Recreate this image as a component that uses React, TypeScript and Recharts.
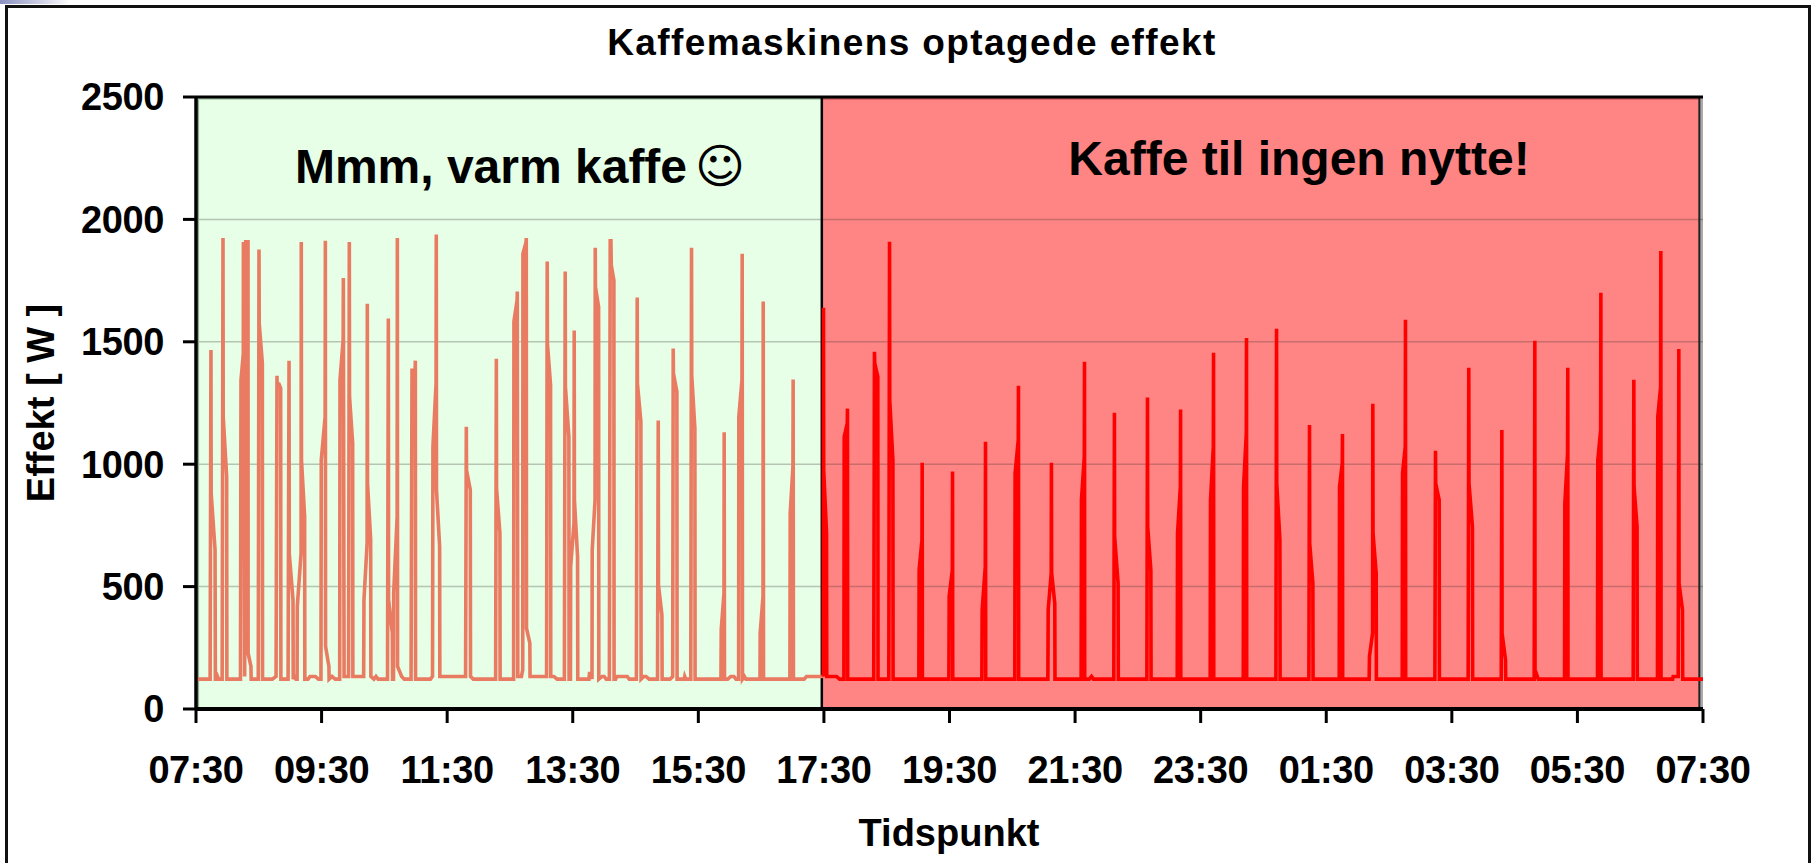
import { LineChart, Line, XAxis, YAxis, ReferenceArea, ReferenceLine } from 'recharts';

// minutes after 07:30, watts
const dayReadings: [number, number][] = [
  [0, 122], [13.5, 122], [14.3, 1466], [14.5, 881], [18.2, 650], [18.5, 122], [19.5, 122], [20.5, 133], [21.5, 122], [25, 122],
  [25.8, 1924], [26, 1194], [29.3, 949], [29.5, 122], [42.5, 122],
  [43, 1344], [45.2, 1452], [45.3, 1908], [46.5, 133], [47.5, 1908], [49.7, 1908], [49.8, 228], [52.5, 174], [52.7, 122], [59.5, 122],
  [60.2, 1877], [60.4, 1575], [63.4, 1412], [63.6, 122], [73, 122], [76.5, 133],
  [77.4, 1361], [77.5, 1327], [79.3, 1327], [80.9, 1310], [81.1, 122], [88, 122],
  [88.9, 1423], [89.1, 636], [92.7, 446], [92.9, 122], [94, 133], [95.5, 122], [96.6, 122],
  [96.8, 419], [100.4, 636], [100.6, 1908], [100.8, 1017], [103.8, 786], [104, 122], [107, 122], [109, 133], [114, 133], [117, 122], [119.4, 122],
  [119.7, 1017], [123.4, 1194], [123.6, 1913], [123.8, 256], [127, 174], [127.2, 122], [130, 133], [133, 122], [137.3, 122],
  [137.6, 1344], [140.6, 1507], [140.8, 1761], [141.5, 133], [145.8, 133],
  [146.5, 1908], [146.7, 1276], [149.7, 1085], [149.9, 133], [160.2, 133],
  [160.5, 446], [163.5, 677], [163.7, 1655], [163.9, 922], [166.9, 691], [167.1, 133], [170, 122], [172, 133], [174, 122], [183, 122],
  [183.8, 1595], [184, 446], [187.6, 310], [187.8, 122], [188.7, 122],
  [188.9, 473], [192.2, 786], [192.4, 1924], [192.6, 174], [196.5, 133], [199, 122], [205.5, 122],
  [206.4, 1384], [209.4, 1384], [209.6, 1423], [209.8, 122], [224, 122], [226, 133],
  [226.4, 1072], [229.4, 1330], [229.6, 1938], [229.8, 895], [232.8, 664], [233, 133], [257.6, 133],
  [258.3, 1153], [258.5, 976], [262.1, 895], [262.3, 133], [265, 122], [286.3, 122],
  [287, 1431], [287.2, 900], [290.4, 718], [290.6, 122], [303.5, 122],
  [303.8, 1582], [306.8, 1670], [307, 1705], [307.5, 133], [311, 133], [312.2, 160],
  [312.4, 1860], [315.4, 1908], [315.6, 1924], [315.8, 330], [319, 269], [319.2, 133], [335, 133],
  [335.6, 1828], [335.8, 1493], [338.8, 1323], [339, 133], [342, 133], [345, 122], [352, 122],
  [352.8, 1787], [353, 1316], [356.3, 1112], [356.5, 122], [357.8, 122],
  [358, 582], [361.2, 760], [361.4, 1546], [361.6, 854], [364.6, 623], [364.8, 122], [375.5, 122], [376, 145], [378, 145], [378.4, 122],
  [378.6, 650], [381.3, 854], [381.5, 1884], [381.7, 1724], [384.7, 1643], [384.9, 122], [388, 133], [390, 133], [392, 122], [395, 122],
  [395.8, 1913], [396.5, 1913], [396.8, 1813], [399.3, 1752], [399.5, 122], [401, 122], [402, 133], [412, 133], [414, 122], [420.8, 122],
  [421.6, 1681], [421.8, 1330], [425.1, 1174], [425.3, 122], [428, 133], [430, 133], [433, 122], [441, 122],
  [441.7, 1179], [441.9, 507], [445.2, 385], [445.4, 122], [453, 122], [455.5, 133],
  [456, 1473], [456.2, 1371], [459.5, 1296], [459.7, 122], [466.5, 122], [467, 133], [468, 122], [472.8, 122],
  [473.5, 1884], [473.7, 1364], [476.7, 1146], [476.9, 122], [501.6, 122],
  [501.9, 324], [504.5, 473], [504.7, 1130], [505, 122], [508, 122], [511, 133], [514, 133], [516, 122], [518.5, 122],
  [518.7, 1194], [521.7, 1344], [521.9, 1860], [522.2, 122], [524, 133], [525.5, 122], [538.9, 122],
  [539.1, 310], [541.8, 460], [542, 1665], [542.3, 122], [567.5, 122],
  [567.8, 800], [570.4, 990], [570.6, 1346], [570.9, 122], [581, 122], [583.4, 133], [600, 133],
];

const nightReadings: [number, number][] = [
  [599.4, 133], [599.6, 1639], [599.8, 976], [602.5, 718], [602.7, 133], [612, 133], [615, 122], [619.1, 122],
  [619.4, 1112], [622.3, 1167], [622.5, 1227], [622.7, 122], [647.6, 122],
  [648.3, 1459], [648.6, 1412], [651.5, 1357], [651.7, 122], [662, 122],
  [662.7, 1909], [662.9, 1262], [665.9, 1017], [666.1, 122], [690.7, 122],
  [691, 568], [693.7, 691], [693.9, 1006], [694.1, 122], [719.4, 122],
  [719.7, 460], [722.7, 568], [722.9, 970], [723.1, 122], [750.9, 122],
  [751.2, 405], [754.2, 582], [754.4, 1092], [754.6, 122], [782.4, 122],
  [782.7, 963], [785.7, 1099], [785.9, 1320], [786.1, 122], [814, 122],
  [814.3, 405], [817.2, 555], [817.4, 1006], [817.6, 555], [820.6, 432], [820.8, 122], [845.8, 122],
  [846.1, 854], [848.8, 1031], [849, 1418], [849.2, 122], [853.5, 122], [855.7, 133], [857.5, 122], [877, 122],
  [877.6, 1210], [877.8, 704], [881.1, 514], [881.3, 122], [908.6, 122],
  [909.2, 1272], [909.4, 745], [912.4, 568], [912.6, 122], [937.6, 122],
  [937.9, 718], [940.6, 908], [940.8, 1223], [941, 122], [969.1, 122],
  [969.4, 854], [972.1, 1072], [972.3, 1455], [972.5, 122], [1000.7, 122],
  [1001, 908], [1003.6, 1126], [1003.8, 1516], [1004, 122], [1031.9, 122],
  [1032.5, 1553], [1032.7, 922], [1035.7, 691], [1035.9, 122], [1063.4, 122],
  [1064, 1160], [1064.2, 677], [1067.2, 514], [1067.4, 122], [1092.4, 122],
  [1092.7, 908], [1095.3, 1004], [1095.5, 1123], [1095.7, 122], [1121, 122],
  [1121.3, 215], [1124.3, 310], [1124.5, 1247], [1124.7, 718], [1127.7, 555], [1127.9, 122], [1152.6, 122],
  [1152.9, 963], [1155.5, 1072], [1155.7, 1590], [1155.9, 122], [1183.8, 122],
  [1184.4, 1055], [1184.6, 922], [1187.9, 854], [1188.1, 122], [1215.6, 122],
  [1216.2, 1394], [1216.4, 922], [1219.7, 745], [1219.9, 122], [1247.2, 122],
  [1247.8, 1140], [1248, 310], [1251.3, 201], [1251.5, 122], [1278.7, 122],
  [1279.3, 1504], [1279.5, 160], [1282.5, 122], [1307.7, 122],
  [1308, 840], [1310.6, 1044], [1310.8, 1394], [1311, 122], [1339.2, 122],
  [1339.5, 1017], [1342.2, 1140], [1342.4, 1700], [1342.6, 122], [1373.3, 122],
  [1373.9, 1345], [1374.1, 908], [1377, 745], [1377.2, 122], [1396.5, 122],
  [1396.8, 1194], [1399.5, 1316], [1399.7, 1871], [1399.9, 122], [1411, 122], [1411.5, 133], [1416.3, 133],
  [1416.9, 1471], [1417.1, 514], [1420.4, 405], [1420.6, 122], [1440, 122],
];

const tickLabels = ['07:30', '09:30', '11:30', '13:30', '15:30', '17:30', '19:30', '21:30', '23:30', '01:30', '03:30', '05:30', '07:30'];
const timeTicks = [0, 120, 240, 360, 480, 600, 720, 840, 960, 1080, 1200, 1320, 1440];
const powerTicks = [0, 500, 1000, 1500, 2000, 2500];
const gridValues = [500, 1000, 1500, 2000];

const rows = [
  ...dayReadings.map(([t, w]) => ({ t, day: w })),
  ...nightReadings.map(([t, w]) => ({ t, night: w })),
];

const FONT = '"Liberation Sans", Arial, sans-serif';
const SPLIT = 598;
const PLOT_END = 1436.5;

function PlotCaption({ cx, cy, text, smiley }: { cx: number; cy: number; text: string; smiley?: boolean }) {
  return (
    <text x={cx} y={cy} textAnchor="middle" fontFamily={FONT} fontWeight={700} fontSize={48} fill="#000">
      {text}
      {smiley ? <tspan fontFamily="DejaVu Sans" fontWeight={400} dx={8}>☺</tspan> : null}
    </text>
  );
}

export default function App() {
  return (
    <div style={{ position: 'absolute', left: 0, top: 0, width: 1814, height: 863, background: '#fff', overflow: 'hidden' }}>
      <div style={{ position: 'absolute', left: 0, top: 0, width: 70, height: 4, background: 'linear-gradient(90deg, #8a90c0, #ffffff)' }} />
      <div style={{ position: 'absolute', left: 5, top: 5, width: 1800, height: 870, border: '3px solid #111' }} />
      <div style={{ position: 'absolute', left: 0, top: 0 }}>
        <LineChart width={1814} height={863} data={rows} margin={{ top: 97, right: 111, bottom: 64, left: 66 }}>
          <ReferenceArea x1={0} x2={SPLIT} y1={0} y2={2500} fill="#E6FFE6" fillOpacity={1} stroke="none" label={<PlotCaption cx={520} cy={183} text="Mmm, varm kaffe" smiley />} />
          <ReferenceArea x1={SPLIT} x2={PLOT_END} y1={0} y2={2500} fill="#FF8585" fillOpacity={1} stroke="none" label={<PlotCaption cx={1299} cy={175} text="Kaffe til ingen nytte!" />} />
          <ReferenceArea x1={PLOT_END} x2={1440} y1={0} y2={2500} fill="#aaaaaa" fillOpacity={1} stroke="none" />
          {gridValues.map((v) => (
            <ReferenceLine key={v} y={v} stroke="rgba(50,40,40,0.27)" strokeWidth={1.5} />
          ))}
          <ReferenceLine x={2} stroke="#8fae8f" strokeWidth={2} />
          <ReferenceLine segment={[{ x: 0, y: 2493 }, { x: SPLIT, y: 2493 }]} stroke="#a8c8a8" strokeWidth={2} />
          <ReferenceLine segment={[{ x: SPLIT, y: 2493 }, { x: PLOT_END, y: 2493 }]} stroke="#c85a5a" strokeWidth={2} />
          <ReferenceLine x={SPLIT} stroke="#000" strokeWidth={2.5} />
          <ReferenceLine x={PLOT_END} stroke="#222" strokeWidth={2} />
          <ReferenceLine y={2500} stroke="#000" strokeWidth={3} />
          <XAxis
            dataKey="t"
            type="number"
            domain={[0, 1440]}
            ticks={timeTicks}
            interval={0}
            tickFormatter={(v: number) => tickLabels[timeTicks.indexOf(v)]}
            axisLine={{ stroke: '#000', strokeWidth: 4 }}
            tickLine={{ stroke: '#000', strokeWidth: 3 }}
            tickSize={14}
            tickMargin={33}
            height={90}
            tick={{ fontFamily: FONT, fontWeight: 700, fontSize: 38, fill: '#000', letterSpacing: -0.4 }}
          />
          <YAxis
            type="number"
            domain={[0, 2500]}
            ticks={powerTicks}
            interval={0}
            axisLine={{ stroke: '#000', strokeWidth: 3.5 }}
            tickLine={{ stroke: '#000', strokeWidth: 3 }}
            tickSize={13}
            tickMargin={19}
            width={130}
            tick={{ fontFamily: FONT, fontWeight: 700, fontSize: 38, fill: '#000', letterSpacing: -0.4 }}
          />
          <Line dataKey="day" type="linear" stroke="#E97B62" strokeWidth={3.6} dot={false} isAnimationActive={false} />
          <Line dataKey="night" type="linear" stroke="#FF0000" strokeWidth={3.6} dot={false} isAnimationActive={false} />
          <text x={912} y={55} textAnchor="middle" fontFamily={FONT} fontWeight={700} fontSize={37} letterSpacing={1.4}>Kaffemaskinens optagede effekt</text>
          <text x={949} y={846} textAnchor="middle" fontFamily={FONT} fontWeight={700} fontSize={38}>Tidspunkt</text>
          <text transform="translate(54,403) rotate(-90)" textAnchor="middle" fontFamily={FONT} fontWeight={700} fontSize={38}>Effekt [ W ]</text>
        </LineChart>
      </div>
    </div>
  );
}
